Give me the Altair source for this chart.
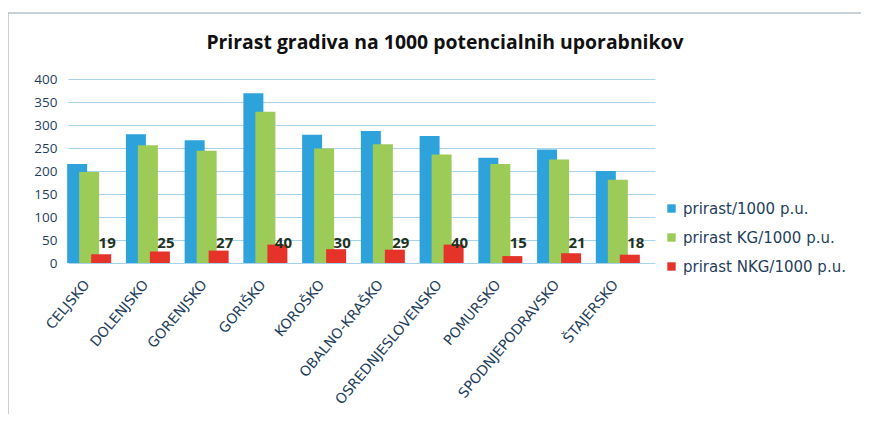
import altair as alt
import pandas as pd

title_text = "Prirast gradiva na 1000 potencialnih uporabnikov"
regions = ["CELJSKO", "DOLENJSKO", "GORENJSKO", "GORIŠKO", "KOROŠKO",
           "OBALNO-KRAŠKO", "OSREDNJESLOVENSKO", "POMURSKO",
           "SPODNJEPODRAVSKO", "ŠTAJERSKO"]
series = ["prirast/1000 p.u.", "prirast KG/1000 p.u.", "prirast NKG/1000 p.u."]
prirast = [215, 280, 267, 369, 279, 287, 276, 229, 247, 200]
prirast_kg = [198, 256, 244, 329, 249, 258, 236, 215, 225, 181]
prirast_nkg = [19, 25, 27, 40, 30, 29, 40, 15, 21, 18]
colors = ["#2EA3DB", "#9DCB58", "#E5332A"]
y_ticks = [0, 50, 100, 150, 200, 250, 300, 350, 400]
label_level = 43

rows = []
for s, vals in zip(series, [prirast, prirast_kg, prirast_nkg]):
    for r, v in zip(regions, vals):
        rows.append({"region": r, "series": s, "value": v, "pos": label_level})
df = pd.DataFrame(rows)

x_scale = alt.Scale(paddingInner=0.387, paddingOuter=0.19)
x_axis = alt.Axis(title=None, labelAngle=-50, labelFontSize=14,
                  labelColor="#1F3F5C", labelFont="DejaVu Sans",
                  domain=False, ticks=False, grid=False,
                  labelPadding=19, labelOffset=-10)
xo_scale = alt.Scale(paddingInner=0, paddingOuter=0)
y_scale = alt.Scale(domain=[0, 400], nice=False)
y_axis = alt.Axis(title=None, values=y_ticks, labelFontSize=13.5,
                  labelColor="#1F3F5C", labelFont="Open Sans",
                  labelOverlap=False, domain=False, ticks=False,
                  gridColor="#A8D3EC", gridWidth=1.2, labelPadding=11)

bars = alt.Chart(df).mark_bar(width=alt.RelativeBandSize(1.667)).encode(
    x=alt.X("region:N", sort=regions, scale=x_scale, axis=x_axis),
    xOffset=alt.XOffset("series:N", sort=series, scale=xo_scale),
    y=alt.Y("value:Q", scale=y_scale, axis=y_axis),
    color=alt.Color("series:N", sort=series,
                    scale=alt.Scale(domain=series, range=colors),
                    legend=alt.Legend(title=None, orient="none", legendX=596,
                                      legendY=122, symbolType="square",
                                      symbolSize=70, symbolStrokeWidth=0,
                                      labelFontSize=15, labelFont="DejaVu Sans",
                                      labelColor="#1F3F5C", rowPadding=13,
                                      labelLimit=300)),
)

labels = alt.Chart(df[df["series"] == series[2]]).mark_text(
    fontSize=15, fontWeight="bold", color="#1E3320", font="Open Sans",
    baseline="middle", dx=-2
).encode(
    x=alt.X("region:N", sort=regions, scale=x_scale, axis=x_axis),
    xOffset=alt.XOffset("series:N", sort=series, scale=xo_scale),
    y=alt.Y("pos:Q", scale=y_scale, axis=y_axis),
    text=alt.Text("value:Q"),
)

deco = pd.DataFrame({"t": [title_text]})

border = alt.Chart(deco).mark_rect(
    fill="transparent", stroke="#B8C2CC", strokeWidth=1.5
).encode(x=alt.value(-60), x2=alt.value(800), y=alt.value(-66), y2=alt.value(340))

title = alt.Chart(deco).mark_text(
    fontSize=19.4, fontWeight="bold", font="Open Sans", color="#111111",
    align="center", baseline="middle"
).encode(x=alt.value(377), y=alt.value(-36), text="t:N")

chart = alt.layer(border, bars, labels, title).properties(
    width=587, height=184,
    background="white",
    autosize=alt.AutoSizeParams(type="none"),
    padding={"left": 60, "top": 71, "right": 206, "bottom": 151},
).configure_view(stroke="transparent").configure_axis(
    domain=False, ticks=False
)

chart.save("out.html", embed_options={"renderer": "svg", "actions": False})
